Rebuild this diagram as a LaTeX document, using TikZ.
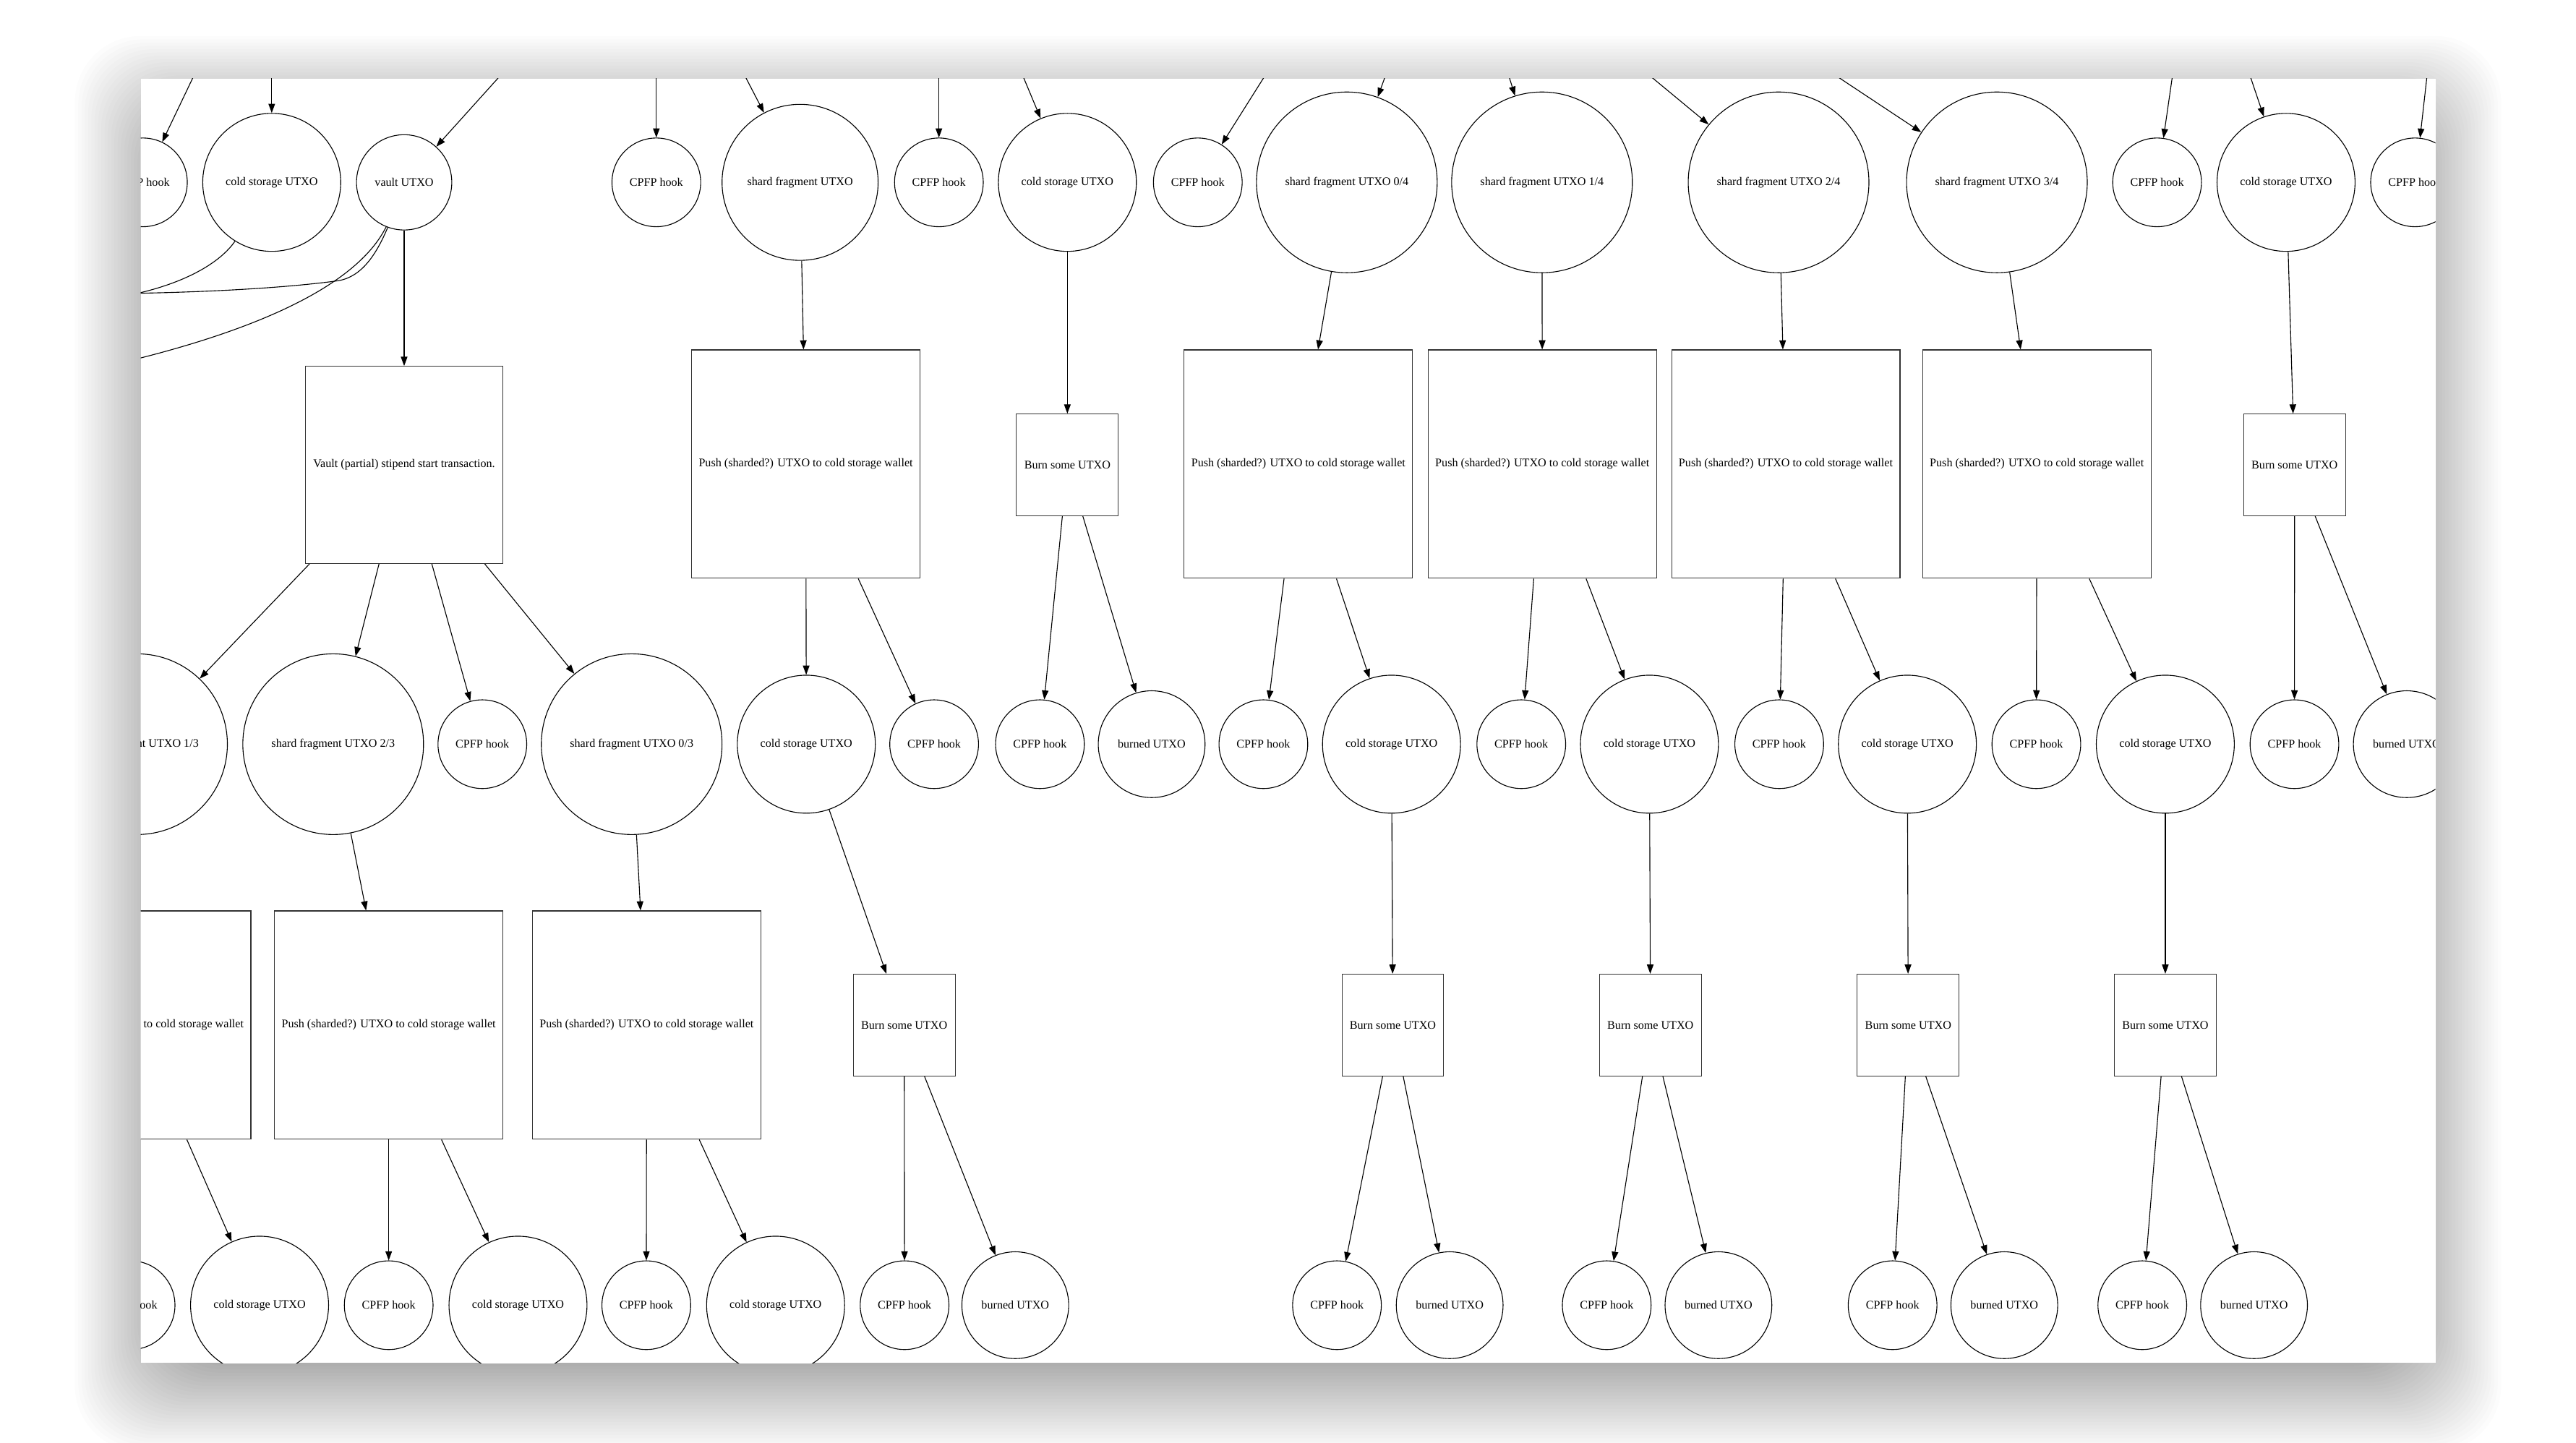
\documentclass[tikz,border=0pt]{standalone}
\usepackage{fontspec}
\setmainfont{Liberation Serif}
\usepackage{tikz}
\usetikzlibrary{arrows.meta}
\newcommand{\gvfont}{\fontsize{10.1pt}{12pt}\selectfont}
\tikzset{
  utxo/.style    ={circle, draw=black, line width=0.7pt, fill=white, inner sep=1pt, font=\gvfont},
  hook/.style    ={utxo, minimum size=2.7cm},
  cold/.style    ={utxo, minimum size=4.2cm},
  vault/.style   ={utxo, minimum size=2.9cm},
  shard/.style   ={utxo, minimum size=4.75cm},
  frag/.style    ={utxo, minimum size=5.5cm},
  burned/.style  ={utxo, minimum size=3.25cm},
  tx/.style      ={rectangle, draw=black!80, line width=0.7pt, fill=white, inner sep=1pt, font=\gvfont},
  stipend/.style ={tx, minimum size=6cm},
  pushbox/.style ={tx, minimum size=6.95cm},
  burnbox/.style ={tx, minimum size=3.1cm},
  flow/.style    ={-{Triangle[length=2.8mm, width=2mm]}, line width=0.7pt},
  spend/.style   ={line width=0.7pt}
}
\begin{document}
\begin{tikzpicture}[x=0.05cm, y=-0.05cm]
\useasboundingbox (0,0) rectangle (1568,878);
\fill[white] (0,0) rectangle (1568,878);
\foreach \i [evaluate=\i as \e using 40-2*\i] in {0,...,39}
  \fill[black, fill opacity=0.012, rounded corners=2cm]
    ({85.6-\e},{61.9-\e}) rectangle ({1482.4+\e},{843.6+\e});
\fill[white] (85.6,47.9) rectangle (1482.4,829.6);
\begin{scope}
\clip (85.6,47.9) rectangle (1482.4,829.6);

\node[hook]  (hooktopa)   at (87,111)     {CPFP hook};
\node[cold]  (coldtopa)   at (165.4,111)  {cold storage UTXO};
\node[vault] (vaultutxo)  at (246,111)    {vault UTXO};
\node[hook]  (hooktopb)   at (399.5,111)  {CPFP hook};
\node[shard] (shardutxo)  at (487,111)    {shard fragment UTXO};
\node[hook]  (hooktopc)   at (571.5,111)  {CPFP hook};
\node[cold]  (coldtopb)   at (649.7,111)  {cold storage UTXO};
\node[hook]  (hooktopd)   at (729.1,111)  {CPFP hook};
\node[frag]  (shardzero)  at (819.8,111)  {shard fragment UTXO 0/4};
\node[frag]  (shardone)   at (938.6,111)  {shard fragment UTXO 1/4};
\node[frag]  (shardtwo)   at (1082.6,111) {shard fragment UTXO 2/4};
\node[frag]  (shardthree) at (1215.5,111) {shard fragment UTXO 3/4};
\node[hook]  (hooktope)   at (1313,111)   {CPFP hook};
\node[cold]  (coldtopc)   at (1391.5,111) {cold storage UTXO};
\node[hook]  (hooktopf)   at (1470,111)   {CPFP hook};

\node[stipend] (stipendtx) at (246,283)      {Vault (partial) stipend start transaction.};
\node[pushbox] (pushtxa)   at (490.5,282.5)  {Push (sharded?) UTXO to cold storage wallet};
\node[burnbox] (burntxa)   at (649.7,283)    {Burn some UTXO};
\node[pushbox] (pushzero)  at (790.3,282.5)  {Push (sharded?) UTXO to cold storage wallet};
\node[pushbox] (pushone)   at (938.8,282.5)  {Push (sharded?) UTXO to cold storage wallet};
\node[pushbox] (pushtwo)   at (1087,282.5)   {Push (sharded?) UTXO to cold storage wallet};
\node[pushbox] (pushthree) at (1239.8,282.5) {Push (sharded?) UTXO to cold storage wallet};
\node[burnbox] (burntxb)   at (1396.7,283)   {Burn some UTXO};

\node[frag]   (fragonethird)  at (83.4,453)   {shard fragment UTXO 1/3};
\node[frag]   (fragtwothird)  at (202.8,453)  {shard fragment UTXO 2/3};
\node[hook]   (hookmida)      at (293.6,453)  {CPFP hook};
\node[frag]   (fragzerothird) at (384.5,453)  {shard fragment UTXO 0/3};
\node[cold]   (coldmida)      at (490.8,453)  {cold storage UTXO};
\node[hook]   (hookmidb)      at (568.6,453)  {CPFP hook};
\node[hook]   (hookmidc)      at (633,453)    {CPFP hook};
\node[burned] (burnedmida)    at (701,453)    {burned UTXO};
\node[hook]   (hookmidd)      at (769,453)    {CPFP hook};
\node[cold]   (coldmidb)      at (847,453)    {cold storage UTXO};
\node[hook]   (hookmide)      at (926,453)    {CPFP hook};
\node[cold]   (coldmidc)      at (1004,453)   {cold storage UTXO};
\node[hook]   (hookmidf)      at (1083,453)   {CPFP hook};
\node[cold]   (coldmidd)      at (1161,453)   {cold storage UTXO};
\node[hook]   (hookmidg)      at (1239.5,453) {CPFP hook};
\node[cold]   (coldmide)      at (1318,453)   {cold storage UTXO};
\node[hook]   (hookmidh)      at (1396.6,453) {CPFP hook};
\node[burned] (burnedmidb)    at (1465,453)   {burned UTXO};

\node[pushbox] (pushonethird)  at (83.2,624)   {Push (sharded?) UTXO to cold storage wallet};
\node[pushbox] (pushtwothird)  at (236.6,624)  {Push (sharded?) UTXO to cold storage wallet};
\node[pushbox] (pushzerothird) at (393.6,624)  {Push (sharded?) UTXO to cold storage wallet};
\node[burnbox] (burntxc)       at (550.4,624)  {Burn some UTXO};
\node[burnbox] (burntxd)       at (847.8,624)  {Burn some UTXO};
\node[burnbox] (burntxe)       at (1004.6,624) {Burn some UTXO};
\node[burnbox] (burntxf)       at (1161.5,624) {Burn some UTXO};
\node[burnbox] (burntxg)       at (1318,624)   {Burn some UTXO};

\node[hook]   (hooklowa)   at (79.5,794.5)  {CPFP hook};
\node[cold]   (coldlowa)   at (158,794.5)   {cold storage UTXO};
\node[hook]   (hooklowb)   at (236.6,794.5) {CPFP hook};
\node[cold]   (coldlowb)   at (315.3,794.5) {cold storage UTXO};
\node[hook]   (hooklowc)   at (393.4,794.5) {CPFP hook};
\node[cold]   (coldlowc)   at (472.1,794.5) {cold storage UTXO};
\node[hook]   (hooklowd)   at (550.6,794.5) {CPFP hook};
\node[burned] (burnedlowa) at (618,794.5)   {burned UTXO};
\node[hook]   (hooklowe)   at (813.8,794.5) {CPFP hook};
\node[burned] (burnedlowb) at (882.4,794.5) {burned UTXO};
\node[hook]   (hooklowf)   at (978,794.5)   {CPFP hook};
\node[burned] (burnedlowc) at (1046,794.5)  {burned UTXO};
\node[hook]   (hooklowg)   at (1152,794.5)  {CPFP hook};
\node[burned] (burnedlowd) at (1220,794.5)  {burned UTXO};
\node[hook]   (hooklowh)   at (1304,794.5)  {CPFP hook};
\node[burned] (burnedlowe) at (1372,794.5)  {burned UTXO};

\coordinate (srchooka) at (140,0);
\coordinate (srccolda) at (165.4,0);
\coordinate (srcvault) at (346,0);
\coordinate (srchookb) at (399.5,0);
\coordinate (srcshard) at (429.5,0);
\coordinate (srchookc) at (571.5,0);
\coordinate (srccoldb) at (603.3,0);
\coordinate (srchookd) at (799,0);
\coordinate (srczero)  at (860,0);
\coordinate (srcone)   at (904,0);
\coordinate (srctwo)   at (948.6,0);
\coordinate (srcthree) at (1048,0);
\coordinate (srchooke) at (1329,0);
\coordinate (srccoldc) at (1354,0);
\coordinate (srchookf) at (1482.5,0);
\coordinate (exitcold)   at (78,179.8);
\coordinate (exitvaulta) at (78,178.6);
\coordinate (exitvaultb) at (78,220.5);

\draw[flow] (srchooka) -- (hooktopa);
\draw[flow] (srccolda) -- (coldtopa);
\draw[flow] (srcvault) -- (vaultutxo);
\draw[flow] (srchookb) -- (hooktopb);
\draw[flow] (srcshard) -- (shardutxo);
\draw[flow] (srchookc) -- (hooktopc);
\draw[flow] (srccoldb) -- (coldtopb);
\draw[flow] (srchookd) -- (hooktopd);
\draw[flow] (srczero) -- (shardzero);
\draw[flow] (srcone) -- (shardone);
\draw[flow] (srctwo) -- (shardtwo);
\draw[flow] (srcthree) -- (shardthree);
\draw[flow] (srchooke) -- (hooktope);
\draw[flow] (srccoldc) -- (coldtopc);
\draw[flow] (srchookf) -- (hooktopf);

\draw[spend] (coldtopa.238) .. controls (134,160) and (112,173) .. (exitcold);
\draw[spend] (vaultutxo.250) .. controls (229,155) and (220,169) .. (205,171)
   .. controls (170,175.7) and (120,178) .. (exitvaulta);
\draw[spend] (vaultutxo.248) .. controls (225,158) and (195,190) .. (86,217.8) -- (exitvaultb);

\draw[flow] (vaultutxo) -- (stipendtx);
\draw[flow] (shardutxo) -- (pushtxa);
\draw[flow] (coldtopb) -- (burntxa);
\draw[flow] (shardzero) -- (pushzero);
\draw[flow] (shardone) -- (pushone);
\draw[flow] (shardtwo) -- (pushtwo);
\draw[flow] (shardthree) -- (pushthree);
\draw[flow] (coldtopc) -- (burntxb);

\draw[flow] (stipendtx) -- (fragonethird);
\draw[flow] (stipendtx) -- (fragtwothird);
\draw[flow] (stipendtx) -- (hookmida);
\draw[flow] (stipendtx) -- (fragzerothird);
\draw[flow] (pushtxa) -- (coldmida);
\draw[flow] (pushtxa) -- (hookmidb);
\draw[flow] (burntxa) -- (hookmidc);
\draw[flow] (burntxa) -- (burnedmida);
\draw[flow] (pushzero) -- (hookmidd);
\draw[flow] (pushzero) -- (coldmidb);
\draw[flow] (pushone) -- (hookmide);
\draw[flow] (pushone) -- (coldmidc);
\draw[flow] (pushtwo) -- (hookmidf);
\draw[flow] (pushtwo) -- (coldmidd);
\draw[flow] (pushthree) -- (hookmidg);
\draw[flow] (pushthree) -- (coldmide);
\draw[flow] (burntxb) -- (hookmidh);
\draw[flow] (burntxb) -- (burnedmidb);

\draw[flow] (fragonethird) -- (pushonethird);
\draw[flow] (fragtwothird) -- (pushtwothird);
\draw[flow] (fragzerothird) -- (pushzerothird);
\draw[flow] (coldmida) -- (burntxc);
\draw[flow] (coldmidb) -- (burntxd);
\draw[flow] (coldmidc) -- (burntxe);
\draw[flow] (coldmidd) -- (burntxf);
\draw[flow] (coldmide) -- (burntxg);

\draw[flow] (pushonethird) -- (hooklowa);
\draw[flow] (pushonethird) -- (coldlowa);
\draw[flow] (pushtwothird) -- (hooklowb);
\draw[flow] (pushtwothird) -- (coldlowb);
\draw[flow] (pushzerothird) -- (hooklowc);
\draw[flow] (pushzerothird) -- (coldlowc);
\draw[flow] (burntxc) -- (hooklowd);
\draw[flow] (burntxc) -- (burnedlowa);
\draw[flow] (burntxd) -- (hooklowe);
\draw[flow] (burntxd) -- (burnedlowb);
\draw[flow] (burntxe) -- (hooklowf);
\draw[flow] (burntxe) -- (burnedlowc);
\draw[flow] (burntxf) -- (hooklowg);
\draw[flow] (burntxf) -- (burnedlowd);
\draw[flow] (burntxg) -- (hooklowh);
\draw[flow] (burntxg) -- (burnedlowe);
\end{scope}
\end{tikzpicture}
\end{document}
